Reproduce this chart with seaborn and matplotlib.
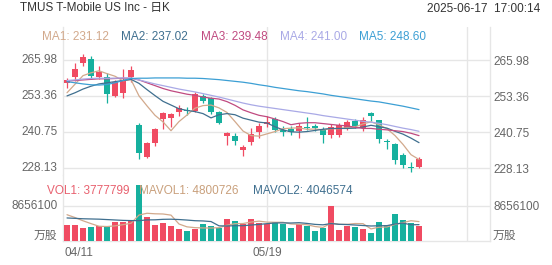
import matplotlib
matplotlib.use("Agg")
import matplotlib.pyplot as plt
import seaborn as sns
import numpy as np

# ---------------- data ----------------
x_labels = ["04/11", "05/19"]
x_label_pos = [0, 25]

opens = [257.8, 260.1, 264.8, 266.2, 260.1, 259.9, 253.5, 254.3, 260.1, 243.2,
         232.1, 236.8, 245.2, 245.6, 247.9, 248.5, 248.2, 253.4, 252.6, 247.7,
         239.3, 239.3, 234.4, 237.3, 240.9, 243.4, 245.3, 241.3, 241.8, 241.1,
         242.3, 243.0, 241.8, 239.7, 239.7, 242.3, 244.6, 242.0, 247.3, 244.9,
         237.4, 236.4, 232.7, 228.6, 228.6]
closes = [259.0, 262.8, 266.9, 260.4, 261.9, 254.0, 258.2, 258.8, 262.5, 233.3,
          236.8, 241.7, 247.3, 247.1, 249.1, 248.1, 254.1, 251.7, 247.9, 244.0,
          240.5, 237.7, 235.6, 239.9, 242.9, 244.4, 241.6, 240.9, 240.9, 243.0,
          242.0, 242.0, 239.7, 242.6, 243.2, 244.2, 242.9, 244.9, 246.3, 238.2,
          237.1, 231.1, 229.3, 228.3, 231.3]
highs = [259.6, 265.0, 268.1, 267.4, 263.9, 261.3, 259.0, 262.8, 264.0, 244.0,
         237.4, 242.0, 247.9, 247.3, 250.2, 249.4, 254.6, 254.1, 253.0, 248.2,
         240.9, 240.5, 236.2, 242.0, 244.0, 246.5, 246.1, 243.0, 242.9, 243.8,
         246.1, 243.6, 242.6, 243.4, 244.0, 244.9, 245.3, 246.0, 247.9, 244.9,
         238.2, 237.0, 233.3, 230.3, 232.1]
lows = [256.1, 258.7, 263.9, 259.3, 259.2, 251.0, 253.1, 252.8, 258.4, 231.2,
        231.8, 235.8, 241.7, 242.6, 246.4, 246.7, 247.8, 250.8, 247.2, 243.6,
        236.2, 236.2, 232.4, 236.2, 238.6, 242.6, 240.8, 239.4, 239.6, 238.5,
        241.3, 241.0, 236.8, 238.5, 239.0, 241.6, 242.0, 241.2, 244.6, 237.0,
        234.8, 229.6, 228.1, 226.8, 228.0]

ma1 = [254.5, 257.5, 260.5, 261.5, 262.2, 261.2, 260.3, 258.7, 259.1, 253.4,
       249.9, 246.6, 244.3, 241.2, 244.4, 246.7, 249.1, 250.0, 250.2, 249.2,
       247.6, 244.4, 241.1, 239.5, 239.3, 240.1, 240.9, 241.9, 242.1, 242.2,
       241.7, 241.8, 241.5, 241.9, 241.9, 242.3, 242.5, 243.6, 244.3, 243.3,
       241.9, 239.5, 236.4, 232.8, 231.12]
ma2 = [253.4, 254.5, 255.8, 256.8, 257.6, 258.0, 258.4, 258.8, 259.2, 257.8,
       255.6, 253.5, 251.5, 250.2, 248.9, 248.3, 247.9, 247.2, 245.7, 246.8,
       247.2, 246.8, 245.6, 244.9, 244.2, 243.9, 242.6, 241.5, 240.8, 240.7,
       240.9, 241.3, 241.7, 242.0, 242.0, 242.0, 242.1, 242.5, 243.1, 242.6,
       242.1, 241.0, 240.0, 238.6, 237.02]
ma3 = [258.6, 258.8, 259.0, 259.2, 259.4, 259.4, 259.5, 259.6, 259.6, 259.0,
       258.0, 257.0, 256.0, 255.2, 254.6, 254.0, 253.6, 253.0, 252.6, 252.3,
       251.4, 250.1, 248.5, 247.5, 246.6, 246.1, 245.3, 244.4, 243.3, 243.8,
       244.0, 244.0, 243.7, 243.4, 243.1, 242.9, 242.4, 242.0, 242.0, 241.7,
       241.5, 241.2, 240.9, 240.3, 239.48]
ma4 = [258.8, 259.0, 259.3, 259.5, 259.6, 259.6, 259.6, 259.7, 259.7, 259.0,
       258.3, 257.6, 257.0, 256.4, 255.8, 255.3, 254.8, 254.2, 253.6, 253.0,
       252.3, 251.6, 250.9, 250.3, 249.8, 249.4, 249.0, 248.6, 248.2, 247.8,
       247.4, 247.0, 246.5, 246.1, 245.7, 245.3, 244.9, 244.5, 244.2, 243.8,
       243.3, 242.7, 242.1, 241.6, 241.00]
ma5 = [258.4, 258.0, 257.6, 257.3, 257.2, 257.4, 258.0, 258.8, 259.5, 259.6,
       259.6, 259.7, 259.7, 259.7, 259.7, 259.6, 259.6, 259.5, 259.3, 259.1,
       258.8, 258.5, 258.2, 257.8, 257.3, 256.9, 256.4, 256.0, 255.6, 255.2,
       254.9, 254.5, 254.1, 253.6, 253.2, 252.8, 252.4, 252.0, 251.6, 251.3,
       250.8, 250.3, 249.8, 249.2, 248.60]

volumes = [4060000, 3880000, 3200000, 3400000, 3700000, 3700000, 4700000, 4700000, 5100000, 13900000,
           5900000, 4060000, 4450000, 3700000, 2900000, 2400000, 3050000, 4100000, 3600000, 3300000,
           5500000, 4900000, 4300000, 5400000, 4450000, 4300000, 4700000, 4300000, 3300000, 4100000,
           3700000, 2500000, 3200000, 8600000, 2600000, 3700000, 3500000, 3050000, 2100000, 4700000,
           4060000, 6600000, 5300000, 4450000, 3777799]
mavol1 = [6.5, 5.8, 5.0, 4.3, 3.65, 3.58, 3.74, 4.04, 4.38, 6.42,
          6.86, 6.73, 6.68, 6.40, 4.20, 3.50, 3.30, 3.23, 3.21, 3.29,
          3.91, 4.28, 4.32, 4.68, 4.91, 4.67, 4.63, 4.63, 4.21, 4.14,
          4.02, 3.58, 3.36, 4.42, 4.12, 4.12, 4.32, 4.29, 2.99, 3.41,
          3.48, 4.10, 4.55, 5.02, 4.800726]
mavol2 = [5.7, 5.6, 5.5, 5.45, 5.4, 5.3, 5.2, 5.1, 5.05, 5.03,
          5.22, 5.24, 5.36, 5.39, 5.31, 5.18, 5.02, 4.96, 4.81, 3.75,
          3.71, 3.79, 3.78, 3.95, 4.10, 4.29, 4.46, 4.48, 4.45, 4.53,
          4.35, 4.11, 4.00, 4.32, 4.13, 4.07, 3.95, 3.83, 3.71, 3.77,
          3.80, 4.21, 4.42, 4.01, 4.046574]

price_ticks = [228.13, 240.75, 253.36, 265.98]
price_tick_labels = ["228.13", "240.75", "253.36", "265.98"]
vol_ticks = [8656100]
vol_tick_labels = ["8656100"]

ma_names = ["MA1", "MA2", "MA3", "MA4", "MA5"]
ma_last = ["231.12", "237.02", "239.48", "241.00", "248.60"]
title = "TMUS T-Mobile US Inc - 日K"
stamp = "2025-06-17  17:00:14"

# ---------------- style ----------------
sns.set_style("white")
plt.rcParams["font.family"] = ["Liberation Sans", "Noto Sans CJK SC", "DejaVu Sans"]

UP = "#F04B62"
DOWN = "#16B09E"
MA_COLORS = ["#D2A98C", "#3F6F8F", "#C04A80", "#A9A9E6", "#3C9FD4"]
GRID = "#E6E6E6"
LABEL = "#666666"

W, H = 552, 265
fig = plt.figure(figsize=(W / 100, H / 100), dpi=100)
fig.patch.set_facecolor("white")

axp = fig.add_axes([63 / W, (H - 175) / H, 427 / W, 148 / H])
axv = fig.add_axes([63 / W, (H - 241) / H, 427 / W, 66 / H])

n = len(closes)
idx = np.arange(n)
o = np.array(opens); c = np.array(closes)
up = c >= o
colors = [UP if u else DOWN for u in up]

# ---------------- price panel ----------------
axp.vlines(idx, lows, highs, colors=colors, linewidth=0.9, zorder=3)
body_bottom = np.minimum(o, c)
body_h = np.maximum(np.abs(c - o), 0.35)
axp.bar(idx, body_h, bottom=body_bottom, width=0.72, color=colors, linewidth=0, zorder=4)

for ma, col in zip([ma1, ma2, ma3, ma4, ma5], MA_COLORS):
    sns.lineplot(x=idx, y=ma, ax=axp, color=col, linewidth=0.9, zorder=5)

axp.set_xlim(-0.5, 52.875)
axp.set_ylim(225.68, 277.55)
axp.set_yticks(price_ticks)
axp.set_yticklabels(price_tick_labels)
axp.set_xticks([])
axp.grid(axis="y", color=GRID, linewidth=1.0, zorder=0)
for xv in [25, 50]:
    axp.axvline(xv, color=GRID, linewidth=1.0, zorder=0)
axp.tick_params(axis="y", length=0, labelleft=False, labelright=True, pad=2.4,
                labelsize=8.5, labelcolor=LABEL)
for t, lab in zip(price_ticks, price_tick_labels):
    axp.text(-5.7 / 427, t, lab, transform=axp.get_yaxis_transform(), ha="right",
             va="center", fontsize=8.5, color=LABEL)
for s in ["top", "bottom"]:
    axp.spines[s].set_visible(False)
for s in ["left", "right"]:
    axp.spines[s].set_color(GRID)
    axp.spines[s].set_linewidth(1.0)

# ---------------- volume panel ----------------
sns.barplot(x=idx, y=volumes, hue=idx, palette=colors, legend=False, ax=axv,
            width=0.72, saturation=1, errorbar=None, linewidth=0, zorder=3)
sns.lineplot(x=idx, y=np.array(mavol1) * 1e6, ax=axv, color=MA_COLORS[0], linewidth=0.9, zorder=5)
sns.lineplot(x=idx, y=np.array(mavol2) * 1e6, ax=axv, color=MA_COLORS[1], linewidth=0.9, zorder=5)
axv.set_xlim(-0.5, 52.875)
axv.set_ylim(0, 8656100 * 66 / 35)
axv.set_yticks(vol_ticks)
axv.set_yticklabels(vol_tick_labels)
axv.set_xticks([])
axv.set_xlabel(""); axv.set_ylabel("")
axv.grid(axis="y", color=GRID, linewidth=1.0, zorder=0)
for xv in [25, 50]:
    axv.axvline(xv, color=GRID, linewidth=1.0, zorder=0)
axv.tick_params(axis="y", length=0, labelleft=False, labelright=True, pad=2.4,
                labelsize=8.5, labelcolor=LABEL)
for t, lab in zip(vol_ticks, vol_tick_labels):
    axv.text(-5.7 / 427, t, lab, transform=axv.get_yaxis_transform(), ha="right",
             va="center", fontsize=8.5, color=LABEL)
axv.spines["top"].set_visible(False)
for s in ["left", "right", "bottom"]:
    axv.spines[s].set_color(GRID)
    axv.spines[s].set_linewidth(1.0)

# unit labels
fig.text(57 / W, 1 - 236 / H, "万股", ha="right", va="center", fontsize=8.5, color=LABEL)
fig.text(493 / W, 1 - 236 / H, "万股", ha="left", va="center", fontsize=8.5, color=LABEL)

# x labels
for pos, lab in zip(x_label_pos, x_labels):
    ha = "left" if pos == 0 else "center"
    xx = pos - 0.3 if pos == 0 else pos
    axv.text(xx, -12 / 66, lab, transform=axv.get_xaxis_transform(), ha=ha,
             va="center", fontsize=8.5, color=LABEL)

# header
fig.text(20 / W, 1 - 8.5 / H, title, ha="left", va="center", fontsize=8.5, color="#333333")
fig.text(540 / W, 1 - 8.5 / H, stamp, ha="right", va="center", fontsize=8.5, color="#333333")

# MA legend
ma_x = [42, 121, 201, 280, 359]
for xp, name, val, col in zip(ma_x, ma_names, ma_last, MA_COLORS):
    fig.text(xp / W, 1 - 36.5 / H, f"{name}: {val}", ha="left", va="center",
             fontsize=8.5, color=col)

# volume legend
vol_leg = [(47, f"VOL1: {volumes[-1]}", "#E8606E"),
           (139, f"MAVOL1: {int(round(mavol1[-1] * 1e6))}", "#C9A07C"),
           (253, f"MAVOL2: {int(round(mavol2[-1] * 1e6))}", "#3F6F8F")]
for xp, txt, col in vol_leg:
    fig.text(xp / W, 1 - 190.5 / H, txt, ha="left", va="center", fontsize=8.5, color=col)

fig.savefig("out.png", dpi=100, facecolor="white")
